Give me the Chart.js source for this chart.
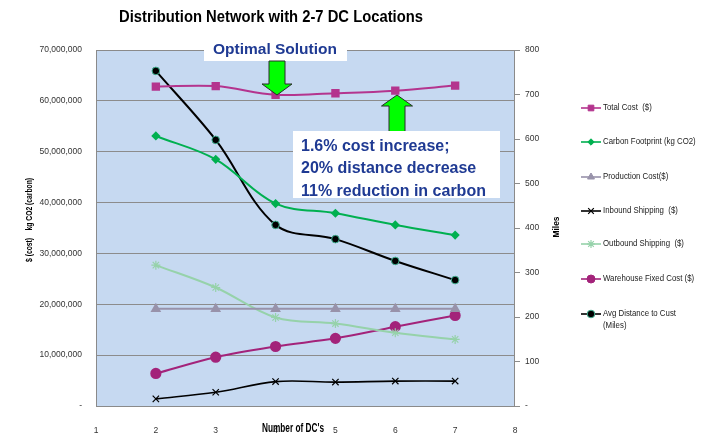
<!DOCTYPE html>
<html>
<head>
<meta charset="utf-8">
<script src="https://cdn.jsdelivr.net/npm/chart.js@4/dist/chart.umd.min.js"></script>
<style>
  html, body { margin: 0; padding: 0; background: #fff; }
  #wrap { width: 705px; height: 435px; }
</style>
</head>
<body>
<div id="wrap"><canvas id="dcChart" width="705" height="435"></canvas></div>
<script>
// ---- data ----
const dcCounts = [2, 3, 4, 5, 6, 7];
const totalCost = [62800000, 62900000, 61200000, 61500000, 62000000, 63000000];
const carbonFootprint = [53100000, 48500000, 39800000, 37900000, 35600000, 33600000];
const productionCost = [19100000, 19100000, 19100000, 19100000, 19100000, 19100000];
const inboundShipping = [1400000, 2700000, 4800000, 4700000, 4900000, 4900000];
const outboundShipping = [27700000, 23300000, 17400000, 16200000, 14400000, 13100000];
const warehouseFixed = [6400000, 9600000, 11700000, 13300000, 15600000, 17800000];
const avgDistance = [753, 598, 407, 375, 326, 283];

const xTicks = [1, 2, 3, 4, 5, 6, 7, 8];
const costTicksMax = 70000000;
const milesTicksMax = 800;

const textBlue = '#1F3A93';
const sans = '"Liberation Sans", Arial, sans-serif';

function pts(values) {
    return dcCounts.map((x, i) => ({ x: x, y: values[i] }));
}

function series(label, values, color, style, opts) {
    return Object.assign({
        label: label,
        data: pts(values),
        borderColor: color,
        backgroundColor: color,
        pointBackgroundColor: color,
        pointBorderColor: color,
        pointStyle: style,
        pointRadius: 4,
        borderWidth: 2,
        tension: 0.35,
        yAxisID: 'y'
    }, opts || {});
}

const datasets = [
    series('Total Cost  ($)', totalCost, '#B4348E', 'rect', { pointRadius: 4.5 }),
    series('Carbon Footprint (kg CO2)', carbonFootprint, '#00B050', 'rectRot', { pointRadius: 3.2 }),
    series('Production Cost($)', productionCost, '#9892AA', 'triangle', { tension: 0, pointRadius: 4.2 }),
    series('Inbound Shipping  ($)', inboundShipping, '#000000', 'crossRot', { pointRadius: 4.5, borderWidth: 1.6, pointBorderWidth: 1.2 }),
    series('Outbound Shipping  ($)', outboundShipping, '#96D2AA', 'star', { pointRadius: 4.5, pointBorderWidth: 1.2 }),
    series('Warehouse Fixed Cost ($)', warehouseFixed, '#A3237A', 'circle', { pointRadius: 4.6 }),
    series('Avg Distance to Cust|(Miles)', avgDistance, '#000000', 'circle', {
        yAxisID: 'y2', pointRadius: 3.8, pointBorderColor: '#40B090', pointBorderWidth: 1
    })
];

// plot background, border, titles, legend and callouts
const decor = {
    id: 'decor',
    beforeDraw(chart) {
        const { ctx, chartArea: a } = chart;
        ctx.save();
        ctx.fillStyle = '#C6D9F1';
        ctx.fillRect(a.left, a.top, a.right - a.left, a.bottom - a.top);
        ctx.restore();
    },
    beforeDatasetsDraw(chart) {
        const { ctx, chartArea: a } = chart;
        ctx.save();
        ctx.strokeStyle = '#8A8A8A';
        ctx.lineWidth = 1;
        ctx.strokeRect(a.left + 0.5, a.top + 0.5, a.right - a.left - 1, a.bottom - a.top);
        ctx.restore();
    },
    afterDraw(chart) {
        const ctx = chart.ctx;
        ctx.save();

        // chart title, squeezed to the narrow look of the original
        fitText(ctx, 'Distribution Network with 2-7 DC Locations', 271, 18, 304, 'bold 16px ' + sans, '#000');
        // x axis title
        fitText(ctx, "Number of DC's", 293, 429, 62, 'bold 12px ' + sans, '#000');

        // left axis title
        ctx.save();
        ctx.translate(30, 220);
        ctx.rotate(-Math.PI / 2);
        fitText(ctx, '$ (cost)    kg CO2 (carbon)', 0, 0, 84, 'bold 9px ' + sans, '#000');
        ctx.restore();

        // right axis title
        ctx.save();
        ctx.translate(557, 227);
        ctx.rotate(-Math.PI / 2);
        fitText(ctx, 'Miles', 0, 0, 21, 'bold 9px ' + sans, '#000');
        ctx.restore();

        // legend
        const legendY = [108, 142, 177, 211, 244, 279, 314];
        chart.data.datasets.forEach((ds, i) => {
            const y = legendY[i];
            ctx.strokeStyle = ds.borderColor;
            ctx.lineWidth = 1.6;
            ctx.beginPath();
            ctx.moveTo(581, y);
            ctx.lineTo(601, y);
            ctx.stroke();
            ctx.fillStyle = ds.pointBackgroundColor;
            ctx.strokeStyle = ds.pointBorderColor;
            ctx.lineWidth = ds.pointBorderWidth || 1;
            Chart.helpers.drawPoint(ctx, { pointStyle: ds.pointStyle, radius: Math.min(ds.pointRadius, 4), rotation: 0, borderWidth: ctx.lineWidth }, 591, y);
            ds.label.split('|').forEach((line, k) => {
                ctx.save();
                ctx.translate(603, y + k * 12);
                ctx.scale(0.87, 1);
                ctx.fillStyle = '#222';
                ctx.font = '9px ' + sans;
                ctx.textAlign = 'left';
                ctx.textBaseline = 'middle';
                ctx.fillText(line, 0, 0);
                ctx.restore();
            });
        });

        // "Optimal Solution" callout
        ctx.fillStyle = '#fff';
        ctx.fillRect(204, 38, 143, 23);
        ctx.fillStyle = textBlue;
        ctx.font = 'bold 15.5px ' + sans;
        ctx.textAlign = 'center';
        ctx.textBaseline = 'middle';
        ctx.fillText('Optimal Solution', 275, 50);

        drawArrow(ctx, 277, 61, 95, 8, 15, 11);
        drawArrow(ctx, 397, 132, 95, 8, 15.5, 11);

        // result callout
        ctx.save();
        ctx.beginPath();
        ctx.rect(293, 131, 207, 67);
        ctx.clip();
        ctx.fillStyle = '#fff';
        ctx.fillRect(293, 131, 207, 67);
        ctx.fillStyle = textBlue;
        ctx.font = 'bold 16px ' + sans;
        ctx.textAlign = 'left';
        ctx.textBaseline = 'middle';
        ctx.fillText('1.6% cost increase;', 301, 147);
        ctx.fillText('20% distance decrease', 301, 169);
        ctx.fillText('11% reduction in carbon', 301, 192);
        ctx.restore();

        ctx.restore();
    }
};

function fitText(ctx, text, cx, cy, width, font, color) {
    ctx.save();
    ctx.font = font;
    ctx.fillStyle = color;
    ctx.textAlign = 'center';
    ctx.textBaseline = 'middle';
    const w = ctx.measureText(text).width;
    ctx.translate(cx, cy);
    ctx.scale(width / w, 1);
    ctx.fillText(text, 0, 0);
    ctx.restore();
}

// arrow from tail y0 to tip y1 (vertical), half shaft width, half head width, head length
function drawArrow(ctx, x, y0, y1, hs, hh, hl) {
    const dir = y1 > y0 ? 1 : -1;
    const base = y1 - dir * hl;
    ctx.beginPath();
    ctx.moveTo(x - hs, y0);
    ctx.lineTo(x - hs, base);
    ctx.lineTo(x - hh, base);
    ctx.lineTo(x, y1);
    ctx.lineTo(x + hh, base);
    ctx.lineTo(x + hs, base);
    ctx.lineTo(x + hs, y0);
    ctx.closePath();
    ctx.fillStyle = '#00FF00';
    ctx.fill();
    ctx.strokeStyle = '#2A2A2A';
    ctx.lineWidth = 1;
    ctx.stroke();
}

const tickFont = { family: sans, size: 8.5 };

const ctx = document.getElementById('dcChart').getContext('2d');
const dcChart = new Chart(ctx, {
    type: 'line',
    data: { datasets: datasets },
    plugins: [decor],
    options: {
        responsive: false,
        animation: false,
        layout: { padding: { top: 50, left: 0, right: 0, bottom: 0 } },
        plugins: {
            legend: { display: false },
            title: { display: false },
            tooltip: { enabled: false }
        },
        scales: {
            x: {
                type: 'linear',
                min: xTicks[0],
                max: xTicks[xTicks.length - 1],
                afterBuildTicks: s => { s.ticks = xTicks.map(v => ({ value: v })); },
                ticks: { font: tickFont, color: '#333', padding: 12, maxRotation: 0 },
                grid: { display: false },
                border: { display: false },
                afterFit: s => { s.height = 29; }
            },
            y: {
                position: 'left',
                min: 0,
                max: costTicksMax,
                ticks: {
                    stepSize: 10000000,
                    font: tickFont,
                    color: '#333',
                    padding: 14,
                    callback: v => v === 0 ? '-' : v.toLocaleString('en-US')
                },
                grid: { color: '#8C8C8C', lineWidth: 1, drawTicks: false },
                border: { display: false },
                afterFit: s => { s.width = 96; }
            },
            y2: {
                position: 'right',
                min: 0,
                max: milesTicksMax,
                ticks: {
                    stepSize: 100,
                    font: tickFont,
                    color: '#333',
                    padding: 5,
                    callback: v => v === 0 ? '-' : String(v)
                },
                grid: { drawOnChartArea: false, color: '#8C8C8C', tickLength: 5 },
                border: { display: false },
                afterFit: s => { s.width = 190; }
            }
        }
    }
});
</script>
</body>
</html>
